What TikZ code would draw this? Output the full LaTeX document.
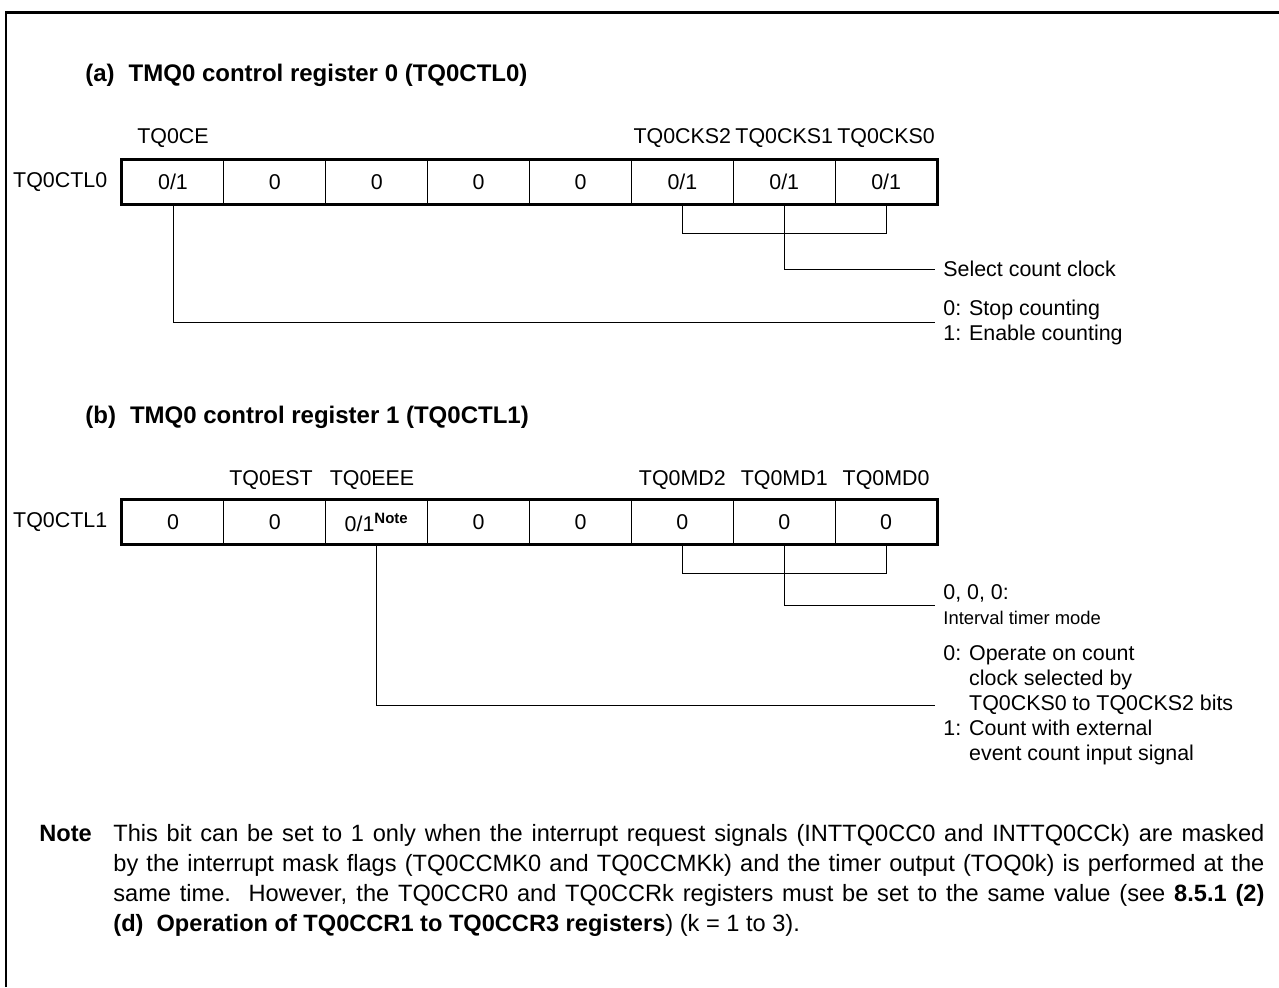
\documentclass[tikz,border=0pt]{standalone}
\usepackage{fontspec}
\setmainfont{Liberation Sans}
\usepackage{tikz}
\usetikzlibrary{positioning}

\begin{document}
\begin{tikzpicture}[x=0.5pt, y=-0.5pt,
		lbl/.style={inner sep=0pt, font=\fontsize{10.7}{12.5}\selectfont},
		cell/.style={draw, line width=0.5pt, minimum width=50.94pt, minimum height=22pt, inner sep=0pt, font=\fontsize{10.7}{12.5}\selectfont},
		regframe/.style={line width=1.35pt},
		desc/.style={inner xsep=4pt, inner ysep=0pt, anchor=west, align=left, font=\fontsize{10.7}{12.5}\selectfont},
		ttl/.style={inner sep=0pt, anchor=west, font=\fontsize{12}{14}\selectfont\bfseries},
		notebody/.style={inner sep=0pt, anchor=base west, font=\fontsize{11.8}{15}\selectfont},
		wire/.style={line width=0.5pt}]
		
		\useasboundingbox (0,0) rectangle (1279,987);
		
		% --- RAHMEN ---
		\draw[line width=1.3pt] (6,987) -- (6,12.5) -- (1279,12.5);
		
		% --- HILFSFUNKTION FÜR REGISTERZEILEN ---
		\newcommand{\regrow}[3]{ % #1:Name, #2:y, #3:Bitwerte
			\foreach \v [count=\i from 0] in {#3}
				\node[cell] (#1\i) at ({173+\i*101.875}, #2) {\v};
			\draw[regframe] (#10.north west) rectangle (#17.south east);
		}
		
		% --- (a) TQ0CTL0 ---
		\node[ttl] (ttlA) at (85,75) {(a)\hspace{7pt}TMQ0 control register 0 (TQ0CTL0)};
		\regrow{a}{182}{{0/1},0,0,0,0,{0/1},{0/1},{0/1}}
		\node[lbl, left=7pt of a0] (ctlA) {TQ0CTL0};
		\node[lbl] (ceLbl) at (a0 |- 0,138) {TQ0CE};
		\node[lbl] (cks2Lbl) at (a5 |- 0,138) {TQ0CKS2};
		\node[lbl] (cks1Lbl) at (a6 |- 0,138) {TQ0CKS1};
		\node[lbl] (cks0Lbl) at (a7 |- 0,138) {TQ0CKS0};
		
		\node[desc] (selTxt) at (935,269) {Select count clock};
		\node[desc] (stopTxt) at (935,322) {0: Stop counting\\1: Enable counting};
		
		\draw[wire] (a5.south) -- ++(0,29) -| (a7.south);
		\draw[wire] (a6.south) |- (selTxt.west);
		\draw[wire] (a0.south) |- (stopTxt.west);
		
		% --- (b) TQ0CTL1 ---
		\node[ttl] (ttlB) at (85,417) {(b)\hspace{7pt}TMQ0 control register 1 (TQ0CTL1)};
		\regrow{b}{522}{0,0,{0/1\textsuperscript{\bfseries Note}},0,0,0,0,0}
		\node[lbl, left=7pt of b0] (ctlB) {TQ0CTL1};
		\node[lbl] (estLbl) at (271,480) {TQ0EST};
		\node[lbl] (eeeLbl) at (372,480) {TQ0EEE};
		\node[lbl] (md2Lbl) at (b5 |- 0,480) {TQ0MD2};
		\node[lbl] (md1Lbl) at (b6 |- 0,480) {TQ0MD1};
		\node[lbl] (md0Lbl) at (b7 |- 0,480) {TQ0MD0};
		
		\node[desc] (modeTxt) at (935,605) {0, 0, 0:\\{\fontsize{9.2}{12}\selectfont Interval timer mode}};
		\node[desc] (eeeTxt) at (935,705) {0: Operate on count\\\phantom{0: }clock selected by\\\phantom{0: }TQ0CKS0 to TQ0CKS2 bits\\1: Count with external\\\phantom{1: }event count input signal};
		
		\draw[wire] (b5.south) -- ++(0,29) -| (b7.south);
		\draw[wire] (b6.south) |- (modeTxt.west);
		\draw[wire] (b2.south) |- (eeeTxt.west);
		
		% --- HINWEIS ---
		\node[notebody] (noteHd) at (39,841) {\bfseries Note};
		\node[notebody, text width=575.5pt, align=justify] (noteTxt) at (113,841) {This bit can be set to 1 only when the interrupt request signals (INTTQ0CC0 and INTTQ0CCk) are masked\linebreak
			by the interrupt mask flags (TQ0CCMK0 and TQ0CCMKk) and the timer output (TOQ0k) is performed at the\linebreak
			same time.\ \ However, the TQ0CCR0 and TQ0CCRk registers must be set to the same value (see \textbf{8.5.1 (2)}\linebreak
			\textbf{(d)\ \ Operation of TQ0CCR1 to TQ0CCR3 registers}) (k = 1 to 3).};
		
	\end{tikzpicture}
\end{document}
